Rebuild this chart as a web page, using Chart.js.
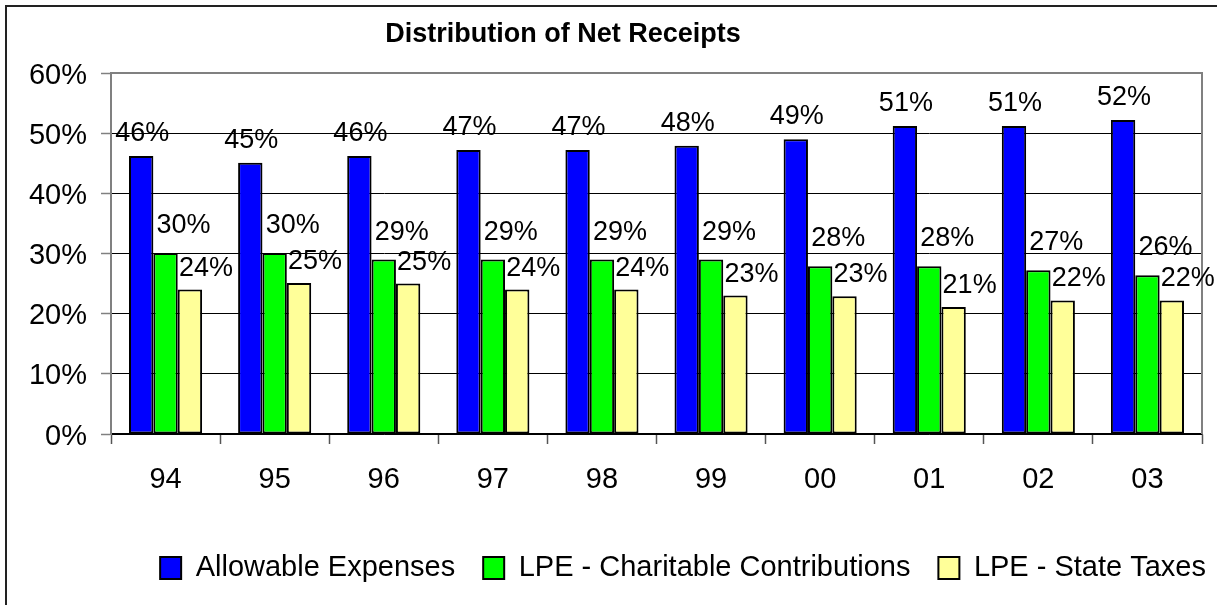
<!DOCTYPE html>
<html>
<head>
  <title>Distribution of Net Receipts</title>
  <script src="https://cdn.jsdelivr.net/npm/chart.js"></script>
  <style>
    html, body { margin: 0; padding: 0; overflow: hidden; background: #fff; }
    #myChart { position: absolute; left: 0; top: 0; }
    #frame { position: absolute; left: 5px; top: 5px; width: 1250px; height: 640px;
             border-left: 2px solid #222; border-top: 2px solid #222; pointer-events: none; }
  </style>
</head>
<body>
  <canvas id="myChart" width="1234" height="605"></canvas>
  <div id="frame"></div>
  <script>
    // data (percent of net receipts)
    const years = ['94', '95', '96', '97', '98', '99', '00', '01', '02', '03'];
    const allowableExpenses = [46.2, 45.1, 46.2, 47.2, 47.2, 47.9, 49.0, 51.2, 51.2, 52.2];
    const charitableContrib = [30.1, 30.1, 29.0, 29.0, 29.0, 29.0, 27.9, 27.9, 27.2, 26.4];
    const stateTaxes = [24.0, 25.1, 25.0, 24.0, 24.0, 23.0, 22.9, 21.1, 22.2, 22.2];
    const seriesNames = ['Allowable Expenses', 'LPE - Charitable Contributions', 'LPE - State Taxes'];
    const yMin = 0, yMax = 60, yStep = 10;

    const font = '"Liberation Sans", Arial, sans-serif';
    Chart.defaults.font.family = font;
    Chart.defaults.color = '#000';

    // excel style labels: sit a bit right of the bar centre
    const labelDx = [1, 18, 16];
    const labelGap = [15, 20, 14];

    const valueLabels = {
      id: 'valueLabels',
      afterDatasetsDraw(chart) {
        const ctx = chart.ctx;
        ctx.save();
        ctx.font = '27px ' + font;
        ctx.fillStyle = '#000';
        ctx.textAlign = 'center';
        ctx.textBaseline = 'alphabetic';
        chart.data.datasets.forEach((ds, i) => {
          chart.getDatasetMeta(i).data.forEach((bar, j) => {
            ctx.fillText(Math.round(ds.data[j]) + '%', bar.x + labelDx[i], bar.y - labelGap[i]);
          });
        });
        ctx.restore();
      }
    };

    // grey plot-area border on top and right
    const plotBorder = {
      id: 'plotBorder',
      beforeDatasetsDraw(chart) {
        const a = chart.chartArea, ctx = chart.ctx;
        ctx.save();
        ctx.strokeStyle = '#808080';
        ctx.lineWidth = 2;
        ctx.beginPath();
        ctx.moveTo(a.left, a.top);
        ctx.lineTo(a.right, a.top);
        ctx.lineTo(a.right, a.bottom);
        ctx.stroke();
        ctx.restore();
      }
    };

    const chartTitle = {
      id: 'chartTitle',
      afterDraw(chart) {
        const ctx = chart.ctx;
        ctx.save();
        ctx.font = 'bold 27px ' + font;
        ctx.fillStyle = '#000';
        ctx.textAlign = 'center';
        ctx.textBaseline = 'alphabetic';
        ctx.fillText('Distribution of Net Receipts', 563, 42);
        ctx.restore();
      }
    };

    const colors = ['#0000FF', '#00FF00', '#FFFF99'];
    const series = [allowableExpenses, charitableContrib, stateTaxes];

    var ctx = document.getElementById('myChart').getContext('2d');
    var myChart = new Chart(ctx, {
      type: 'bar',
      data: {
        labels: years,
        datasets: series.map((vals, i) => ({
          label: seriesNames[i],
          data: vals,
          backgroundColor: colors[i],
          borderColor: '#000',
          borderWidth: 2,
          borderSkipped: false,
          categoryPercentage: 0.67,
          barPercentage: 1.0
        }))
      },
      options: {
        responsive: false,
        animation: false,
        layout: { padding: { left: 29, right: 0, top: 73, bottom: 12.5 } },
        scales: {
          x: {
            grid: { display: true, drawOnChartArea: false, drawTicks: true, tickLength: 10,
                    tickColor: '#555', tickWidth: 1.5, offset: true },
            border: { color: '#000', width: 1.5 },
            ticks: { font: { size: 29 }, padding: 19, maxRotation: 0 },
            afterFit: (s) => { s.height = 91.5; }
          },
          y: {
            min: yMin,
            max: yMax,
            grid: {
              color: (c) => (c.tick && c.tick.value === yMax) ? '#808080' : '#000',
              lineWidth: 1,
              tickLength: 10,
              tickColor: '#808080',
              tickWidth: 1.5
            },
            border: { color: '#808080', width: 2 },
            ticks: {
              stepSize: yStep,
              font: { size: 29 },
              padding: 14,
              labelOffset: 2.5,
              callback: (v) => v + '%'
            },
            afterFit: (s) => { s.width = 82; }
          },
          yRight: {
            type: 'linear',
            position: 'right',
            display: true,
            grid: { display: false, drawTicks: false },
            border: { display: false },
            ticks: { display: false },
            afterFit: (s) => { s.width = 32; }
          }
        },
        plugins: {
          title: { display: false },
          tooltip: { enabled: false },
          legend: {
            position: 'bottom',
            align: 'end',
            labels: { boxWidth: 21, boxHeight: 22, padding: 28, font: { size: 29 }, color: '#000' }
          }
        }
      },
      plugins: [plotBorder, valueLabels, chartTitle]
    });
  </script>
</body>
</html>
